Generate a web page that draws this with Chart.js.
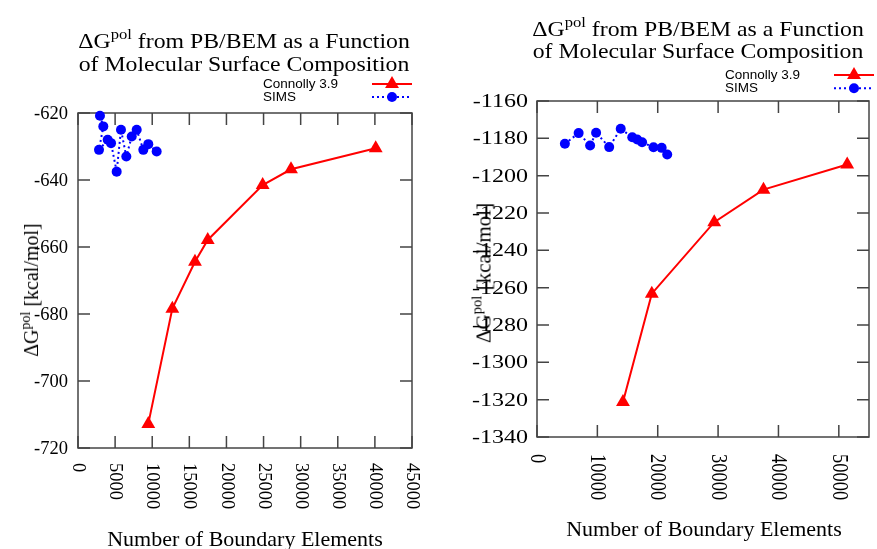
<!DOCTYPE html>
<html>
<head>
<meta charset="utf-8">
<script src="https://cdn.jsdelivr.net/npm/chart.js@4.4.1/dist/chart.umd.min.js"></script>
<style>
    html, body { margin: 0; padding: 0; background: #fff; }
    #page {
        position: relative; width: 877px; height: 549px; overflow: hidden;
        font-family: 'Liberation Serif', 'Times New Roman', serif; color: #000;
    }
    canvas { position: absolute; top: 0; }
    .txt { position: absolute; white-space: nowrap; line-height: 1; }
    .title {
        position: absolute; white-space: nowrap; text-align: center; font-size: 22px;
        transform: scaleX(1.08);
    }
    .sup { font-size: 0.7em; position: relative; top: -0.6em; }
    .mid { transform: translate(-50%, -50%); }
    .rot { transform: translate(-50%, -50%) rotate(-90deg); }
</style>
</head>
<body>
<div id="page">
    <canvas id="left" width="438" height="549" style="left:0"></canvas>
    <canvas id="right" width="439" height="549" style="left:438px"></canvas>

    <div class="title" style="left:44px; width:400px; top:30px; line-height:21px">
        ΔG<span class="sup">pol</span> from PB/BEM as a Function<br>of Molecular Surface Composition
    </div>
    <div class="title" style="left:498px; width:400px; top:19px; line-height:19.5px">
        ΔG<span class="sup">pol</span> from PB/BEM as a Function<br>of Molecular Surface Composition
    </div>

    <div class="txt rot" style="left:31px; top:290px; font-size:20px">ΔG<span class="sup">pol</span> [kcal/mol]</div>
    <div class="txt rot" style="left:484px; top:273px; font-size:21px">ΔG<span class="sup">pol</span> [kcal/mol]</div>

    <div class="txt mid" style="left:245px; top:539px; font-size:22px">Number of Boundary Elements</div>
    <div class="txt mid" style="left:704px; top:529px; font-size:22px">Number of Boundary Elements</div>
</div>
<script>
//
// Data
//

const series_labels = [ 'Connolly 3.9', 'SIMS' ]

const left_connolly_x = [ 9470, 12710, 15760, 17480, 24880, 28700, 40110 ]
const left_connolly_y = [ -712.8, -678.4, -664.4, -657.9, -641.5, -636.8, -630.5 ]
const left_sims_x = [ 2960, 3410, 2830, 4000, 4450, 5210, 5790, 6510, 7240, 7910, 8800, 9470, 10600 ]
const left_sims_y = [ -620.8, -624.0, -631.0, -628.0, -629.0, -637.5, -625.0, -633.0, -627.0, -625.0, -631.0, -629.3, -631.5 ]

const right_connolly_x = [ 14240, 19020, 29360, 37520, 51390 ]
const right_connolly_y = [ -1321.3, -1263.2, -1224.9, -1207.5, -1194.0 ]
const right_sims_x = [ 4620, 6900, 8800, 9790, 11960, 13870, 15780, 16600, 17410, 19300, 20650, 21570 ]
const right_sims_y = [ -1182.9, -1177.2, -1183.8, -1177.0, -1184.7, -1174.9, -1179.4, -1180.6, -1182.1, -1184.8, -1185.1, -1188.7 ]

// tick labels
const left_x_ticks = [ 0, 5000, 10000, 15000, 20000, 25000, 30000, 35000, 40000, 45000 ]
const left_y_ticks = [ -720, -700, -680, -660, -640, -620 ]
const right_x_ticks = [ 0, 10000, 20000, 30000, 40000, 50000 ]
const right_y_ticks = [ -1340, -1320, -1300, -1280, -1260, -1240, -1220, -1200, -1180, -1160 ]

// axis ranges [ min, max ]
const left_x_range = [ 0, 45000 ]
const left_y_range = [ -720, -620 ]
const right_x_range = [ 0, 55000 ]
const right_y_range = [ -1340, -1160 ]

//
// Styles
//

const RED = '#ff0000'
const BLUE = '#0000ff'
const FRAME = '#444444'
const TICK = 12
const SERIF = "'Liberation Serif', 'Times New Roman', serif"
const SANS = "'Liberation Sans', Arial, sans-serif"

const zip = (xs, ys) => xs.map((x, i) => ({ x, y: ys[i] }))

function draw_marker (ctx, style, r, x, y) {
    ctx.beginPath()
    if (style === 'triangle') {
        ctx.moveTo(x, y - r)
        ctx.lineTo(x + r * 0.866, y + r / 2)
        ctx.lineTo(x - r * 0.866, y + r / 2)
        ctx.closePath()
    } else {
        ctx.arc(x, y, r, 0, Math.PI * 2)
    }
    ctx.fill()
}

// gnuplot-like frame: border, inward ticks on all four sides,
// y labels on the left, x labels turned clockwise
const frame_plugin = {
    id: 'frame',
    beforeDatasetsDraw (chart, args, opts) {
        const { ctx, chartArea: a, scales: { x, y } } = chart
        ctx.save()
        ctx.strokeStyle = FRAME
        ctx.lineWidth = 1.5
        ctx.strokeRect(a.left, a.top, a.right - a.left, a.bottom - a.top)
        ctx.beginPath()
        for (const t of x.ticks) {
            const px = x.getPixelForValue(t.value)
            ctx.moveTo(px, a.bottom)
            ctx.lineTo(px, a.bottom - TICK)
            ctx.moveTo(px, a.top)
            ctx.lineTo(px, a.top + TICK)
        }
        for (const t of y.ticks) {
            const py = y.getPixelForValue(t.value)
            ctx.moveTo(a.left, py)
            ctx.lineTo(a.left + TICK, py)
            ctx.moveTo(a.right, py)
            ctx.lineTo(a.right - TICK, py)
        }
        ctx.stroke()

        ctx.fillStyle = '#000'
        ctx.font = `${opts.font_size}px ${SERIF}`
        ctx.textBaseline = 'middle'
        ctx.textAlign = 'right'
        for (const t of y.ticks) {
            ctx.save()
            ctx.translate(a.left - opts.y_pad, y.getPixelForValue(t.value) + 1)
            ctx.scale(opts.stretch, 1)
            ctx.fillText(String(t.value), 0, 0)
            ctx.restore()
        }
        ctx.textAlign = 'left'
        for (const t of x.ticks) {
            ctx.save()
            ctx.translate(x.getPixelForValue(t.value), a.bottom + opts.x_gap)
            ctx.rotate(Math.PI / 2)
            ctx.scale(1, opts.stretch)
            ctx.fillText(String(t.value), 0, 0)
            ctx.restore()
        }
        ctx.restore()
    },
}

// gnuplot-like key: text on the left, sample on the right
const key_plugin = {
    id: 'key',
    afterDraw (chart, args, opts) {
        const { ctx } = chart
        ctx.save()
        ctx.font = `${opts.font_size}px ${SANS}`
        ctx.textAlign = 'left'
        ctx.textBaseline = 'middle'
        chart.data.datasets.forEach((ds, i) => {
            const y = opts.y + i * opts.row
            ctx.fillStyle = '#000'
            ctx.fillText(ds.label, opts.text_x, y)
            ctx.strokeStyle = ds.borderColor
            ctx.lineWidth = ds.borderWidth
            ctx.setLineDash(ds.borderDash || [])
            ctx.beginPath()
            ctx.moveTo(opts.x0, y)
            ctx.lineTo(opts.x1, y)
            ctx.stroke()
            ctx.setLineDash([])
            ctx.fillStyle = ds.backgroundColor
            draw_marker(ctx, ds.pointStyle, ds.pointRadius, (opts.x0 + opts.x1) / 2, y)
        })
        ctx.restore()
    },
}

function make_chart (canvas, cfg) {
    const set_ticks = (values) => (s) => { s.ticks = values.map((value) => ({ value })) }
    return new Chart(canvas, {
        type: 'line',
        data: {
            datasets: [
                {
                    label: series_labels[0],
                    data: zip(cfg.connolly_x, cfg.connolly_y),
                    borderColor: RED,
                    backgroundColor: RED,
                    borderWidth: 2,
                    pointStyle: 'triangle',
                    pointRadius: 8,
                    pointBorderWidth: 0,
                    pointBackgroundColor: RED,
                    clip: false,
                },
                {
                    label: series_labels[1],
                    data: zip(cfg.sims_x, cfg.sims_y),
                    borderColor: BLUE,
                    backgroundColor: BLUE,
                    borderWidth: 2,
                    borderDash: [ 2, 3 ],
                    pointStyle: 'circle',
                    pointRadius: 5,
                    pointBorderWidth: 0,
                    pointBackgroundColor: BLUE,
                    clip: false,
                },
            ],
        },
        options: {
            responsive: false,
            animation: false,
            events: [],
            layout: { padding: { top: cfg.top, right: cfg.right, left: 0, bottom: 0 } },
            plugins: {
                legend: { display: false },
                tooltip: { enabled: false },
                frame: cfg.frame,
                key: cfg.key,
            },
            scales: {
                x: {
                    type: 'linear',
                    min: cfg.x_range[0],
                    max: cfg.x_range[1],
                    ticks: { display: false },
                    grid: { display: false, drawTicks: false },
                    border: { display: false },
                    afterBuildTicks: set_ticks(cfg.x_ticks),
                    afterFit: (s) => { s.height = cfg.x_axis_h },
                },
                y: {
                    type: 'linear',
                    min: cfg.y_range[0],
                    max: cfg.y_range[1],
                    ticks: { display: false },
                    grid: { display: false, drawTicks: false },
                    border: { display: false },
                    afterBuildTicks: set_ticks(cfg.y_ticks),
                    afterFit: (s) => { s.width = cfg.y_axis_w },
                },
            },
        },
        plugins: [ frame_plugin, key_plugin ],
    })
}

make_chart(document.getElementById('left'), {
    connolly_x: left_connolly_x,
    connolly_y: left_connolly_y,
    sims_x: left_sims_x,
    sims_y: left_sims_y,
    x_range: left_x_range,
    y_range: left_y_range,
    x_ticks: left_x_ticks,
    y_ticks: left_y_ticks,
    top: 113,
    right: 26,
    y_axis_w: 78,
    x_axis_h: 101,
    frame: { font_size: 18.5, y_pad: 10, x_gap: 15, stretch: 1 },
    key: { font_size: 13.5, text_x: 263, y: 84, row: 13, x0: 372, x1: 412 },
})

make_chart(document.getElementById('right'), {
    connolly_x: right_connolly_x,
    connolly_y: right_connolly_y,
    sims_x: right_sims_x,
    sims_y: right_sims_y,
    x_range: right_x_range,
    y_range: right_y_range,
    x_ticks: right_x_ticks,
    y_ticks: right_y_ticks,
    top: 101,
    right: 3,
    y_axis_w: 99,
    x_axis_h: 112,
    frame: { font_size: 18.5, y_pad: 9, x_gap: 17, stretch: 1.3 },
    key: { font_size: 13.5, text_x: 287, y: 75, row: 13.3, x0: 396, x1: 436 },
})
</script>
</body>
</html>
